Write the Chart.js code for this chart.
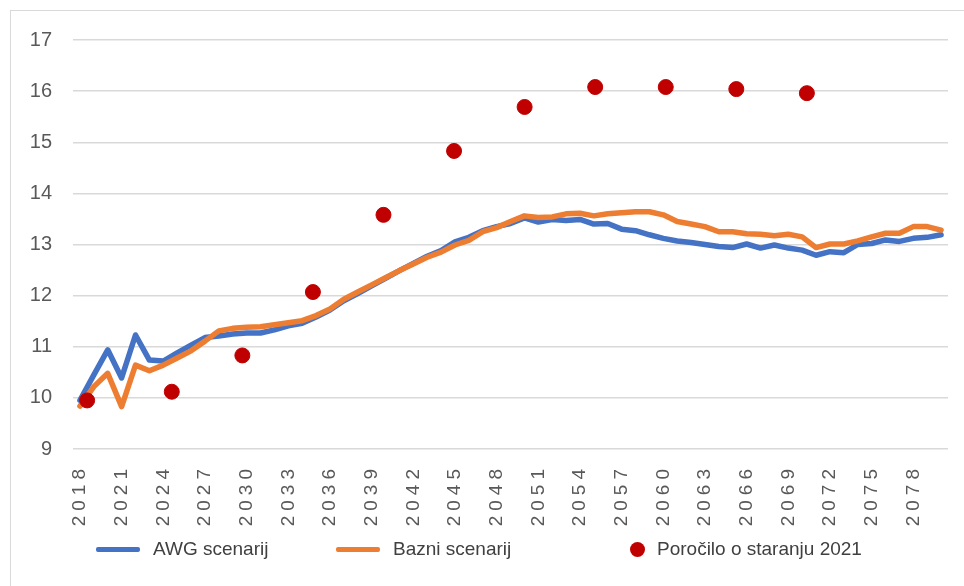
<!DOCTYPE html>
<html>
<head>
<meta charset="utf-8">
<script src="https://cdn.jsdelivr.net/npm/chart.js@4.4.1/dist/chart.umd.min.js"></script>
<style>
  html, body { margin: 0; padding: 0; background: #fff; }
  #wrap { position: relative; width: 964px; height: 586px; overflow: hidden; }
  #frame { position: absolute; left: 10px; top: 10px; width: 1000px; height: 1000px;
           border-left: 1px solid #d9d9d9; border-top: 1px solid #d9d9d9; }
  #myChart { position: absolute; left: 0; top: 0; }
  #legend { position: absolute; top: 534px; left: 0; width: 964px; height: 30px;
            font-family: "Liberation Sans Narrow", "Liberation Sans", Arial, sans-serif;
            font-size: 19px; color: #404040; }
  .item { position: absolute; top: 0; height: 30px; display: flex; align-items: center; }
  .sym-line { width: 44px; height: 5px; border-radius: 2px; margin-right: 13px; }
  .sym-dot { width: 15px; height: 15px; border-radius: 50%; margin-right: 12px; }
</style>
</head>
<body>
<div id="wrap">
  <div id="frame"></div>
  <canvas id="myChart" width="964" height="586"></canvas>
  <div id="legend"></div>
</div>
<script>
const years = [
  2018, 2019, 2020, 2021, 2022, 2023, 2024, 2025, 2026, 2027,
  2028, 2029, 2030, 2031, 2032, 2033, 2034, 2035, 2036, 2037,
  2038, 2039, 2040, 2041, 2042, 2043, 2044, 2045, 2046, 2047,
  2048, 2049, 2050, 2051, 2052, 2053, 2054, 2055, 2056, 2057,
  2058, 2059, 2060, 2061, 2062, 2063, 2064, 2065, 2066, 2067,
  2068, 2069, 2070, 2071, 2072, 2073, 2074, 2075, 2076, 2077,
  2078, 2079, 2080
];

const awgScenarij = [
  9.95, 10.45, 10.94, 10.39, 11.23, 10.74, 10.72, 10.88, 11.03, 11.18,
  11.21, 11.25, 11.27, 11.27, 11.33, 11.41, 11.46, 11.58, 11.72, 11.90,
  12.04, 12.19, 12.34, 12.49, 12.63, 12.77, 12.88, 13.05, 13.14, 13.27,
  13.35, 13.41, 13.52, 13.44, 13.49, 13.47, 13.49, 13.40, 13.41, 13.30,
  13.27, 13.19, 13.12, 13.07, 13.04, 13.00, 12.96, 12.94, 13.01, 12.93,
  12.99, 12.93, 12.89, 12.79, 12.86, 12.84, 13.00, 13.02, 13.09, 13.06,
  13.12, 13.14, 13.19
];

const bazniScenarij = [
  9.84, 10.22, 10.48, 9.83, 10.64, 10.53, 10.64, 10.78, 10.92, 11.11,
  11.31, 11.36, 11.38, 11.39, 11.43, 11.47, 11.51, 11.61, 11.74, 11.93,
  12.07, 12.21, 12.35, 12.49, 12.62, 12.75, 12.85, 12.99, 13.08, 13.25,
  13.33, 13.45, 13.56, 13.53, 13.54, 13.60, 13.61, 13.56, 13.60, 13.62,
  13.64, 13.64, 13.58, 13.45, 13.40, 13.35, 13.25, 13.25, 13.21, 13.20,
  13.17, 13.20, 13.15, 12.94, 13.01, 13.01, 13.07, 13.15, 13.22, 13.22,
  13.35, 13.35, 13.28
];

// Poročilo o staranju 2021 - samo izbrana leta
const porociloLeta = [2019, 2025, 2030, 2035, 2040, 2045, 2050, 2055, 2060, 2065, 2070];
const porociloVrednosti = [9.95, 10.12, 10.83, 12.07, 13.58, 14.83, 15.69, 16.08, 16.08, 16.04, 15.96];

const yTicks = [9, 10, 11, 12, 13, 14, 15, 16, 17];

const blue = '#4472C4';
const orange = '#ED7D31';
const red = '#C00000';

const data = {
  labels: years,
  datasets: [
    {
      label: 'AWG scenarij',
      data: awgScenarij,
      borderColor: blue,
      backgroundColor: blue,
      borderWidth: 5.5,
      pointRadius: 0,
      tension: 0,
      borderCapStyle: 'round',
      borderJoinStyle: 'round',
      order: 2,
    },
    {
      label: 'Bazni scenarij',
      data: bazniScenarij,
      borderColor: orange,
      backgroundColor: orange,
      borderWidth: 5.5,
      pointRadius: 0,
      tension: 0,
      borderCapStyle: 'round',
      borderJoinStyle: 'round',
      order: 1,
    },
    {
      type: 'scatter',
      label: 'Poročilo o staranju 2021',
      data: porociloLeta.map((l, i) => ({ x: l, y: porociloVrednosti[i] })),
      xAxisID: 'x2',
      backgroundColor: red,
      borderColor: red,
      pointRadius: 7.5,
      order: 0,
    },
  ],
};

// razmik med števkami na oznakah osi x
const letterSpacingPlugin = {
  id: 'xLabelSpacing',
  afterDatasetsDraw(chart) { chart.ctx.letterSpacing = '5px'; },
  afterDraw(chart) { chart.ctx.letterSpacing = '0px'; },
};

const config = {
  type: 'line',
  data: data,
  plugins: [letterSpacingPlugin],
  options: {
    responsive: false,
    devicePixelRatio: 1,
    animation: false,
    layout: { padding: { left: 0, right: 16, top: 40, bottom: 0 } },
    plugins: {
      legend: { display: false },
      tooltip: { enabled: false },
    },
    scales: {
      x: {
        type: 'category',
        offset: true,
        grid: { display: false },
        border: { display: false },
        ticks: {
          z: 1,
          autoSkip: false,
          minRotation: 90,
          maxRotation: 90,
          padding: 7,
          color: '#595959',
          font: { family: 'Liberation Sans, Arial, sans-serif', size: 19 },
          callback: function (val, index) {
            return index % 3 === 0 ? this.getLabelForValue(val) : '';
          },
        },
        afterFit(scale) {
          scale.height = 137;
          scale.paddingLeft = 0;
          scale.paddingRight = 0;
        },
      },
      x2: {
        type: 'linear',
        display: false,
        min: 2018,
        max: 2080,
      },
      y: {
        min: 9,
        max: 17,
        afterBuildTicks(scale) { scale.ticks = yTicks.map(v => ({ value: v })); },
        grid: { color: '#d9d9d9', lineWidth: 1.5, drawTicks: false },
        border: { display: false },
        ticks: {
          padding: 21,
          color: '#595959',
          font: { family: 'Liberation Sans, Arial, sans-serif', size: 20 },
        },
        afterFit(scale) { scale.width = 73; },
      },
    },
  },
};

var ctx = document.getElementById('myChart').getContext('2d');
var myChart = new Chart(ctx, config);

// legenda kot HTML pod grafom
const legendPos = [96, 336, 630];
const legend = document.getElementById('legend');
myChart.data.datasets.forEach((ds, i) => {
  const item = document.createElement('div');
  item.className = 'item';
  item.style.left = legendPos[i] + 'px';
  const sym = document.createElement('span');
  sym.className = ds.type === 'scatter' ? 'sym-dot' : 'sym-line';
  sym.style.background = ds.borderColor;
  const txt = document.createElement('span');
  txt.textContent = ds.label;
  item.appendChild(sym);
  item.appendChild(txt);
  legend.appendChild(item);
});
</script>
</body>
</html>
